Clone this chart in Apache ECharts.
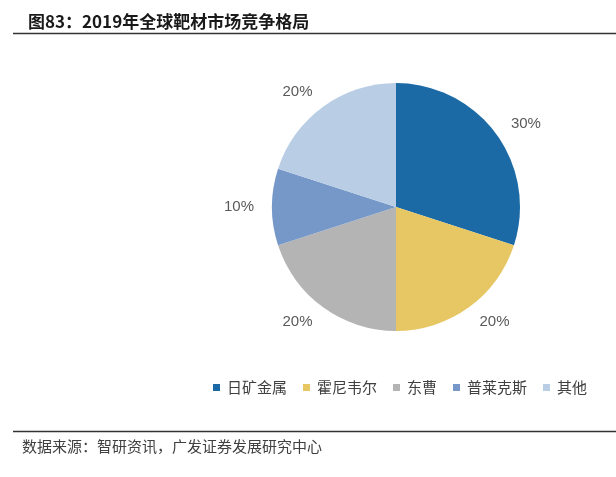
<!DOCTYPE html>
<html>
<head>
<meta charset="utf-8">
<script src="https://cdn.jsdelivr.net/npm/echarts@6/dist/echarts.min.js"></script>
<style>
html,body{margin:0;padding:0;background:#fff;}
#chart{width:616px;height:477px;}
</style>
</head>
<body>
<div id="chart"></div>
<script>
var titleText = '图83：2019年全球靶材市场竞争格局';
var sourceText = '数据来源：智研资讯，广发证券发展研究中心';
var categories = ['日矿金属', '霍尼韦尔', '东曹', '普莱克斯', '其他'];
var shares = [30, 20, 20, 10, 20];
var colors = ['#1b6aa5', '#e6c763', '#b4b4b4', '#7598c8', '#b9cde5'];

var chart = echarts.init(document.getElementById('chart'), null, {renderer: 'canvas'});
var pieData = categories.map(function (n, i) {
  return {name: n, value: shares[i], itemStyle: {color: colors[i]}};
});
chart.setOption({
  animation: false,
  title: {
    text: titleText,
    left: 23,
    top: 8,
    textStyle: {fontFamily: 'Noto Sans CJK SC', fontWeight: 'bold', fontSize: 17, color: '#1a1a1a'}
  },
  legend: {
    data: categories,
    left: 208,
    top: 375,
    itemWidth: 7,
    itemHeight: 7,
    itemGap: 16,
    icon: 'rect',
    selectedMode: false,
    textStyle: {fontFamily: 'Noto Sans CJK SC', fontSize: 15, color: '#404040', padding: [0, 0, 0, 2]}
  },
  graphic: [
    {type: 'line', shape: {x1: 13, y1: 33.5, x2: 616, y2: 33.5}, style: {stroke: '#333', lineWidth: 1.5}},
    {type: 'line', shape: {x1: 13, y1: 431.5, x2: 616, y2: 431.5}, style: {stroke: '#333', lineWidth: 1.5}},
    {type: 'text', left: 22, top: 439, style: {text: sourceText, font: '15px "Noto Sans CJK SC"', fill: '#404040'}}
  ],
  series: [
    {
      type: 'pie',
      center: [396, 207],
      radius: [0, 124],
      startAngle: 90,
      clockwise: true,
      silent: true,
      avoidLabelOverlap: false,
      label: {
        show: true,
        position: 'outside',
        formatter: '{c}%',
        fontFamily: 'Arial, Liberation Sans',
        fontSize: 15,
        color: '#595959',
        padding: [5, 0, 0, 0],
        distanceToLabelLine: 0
      },
      labelLine: {show: false, length: 18, length2: 0},
      emphasis: {disabled: true},
      data: pieData
    }
  ]
});
</script>
</body>
</html>
